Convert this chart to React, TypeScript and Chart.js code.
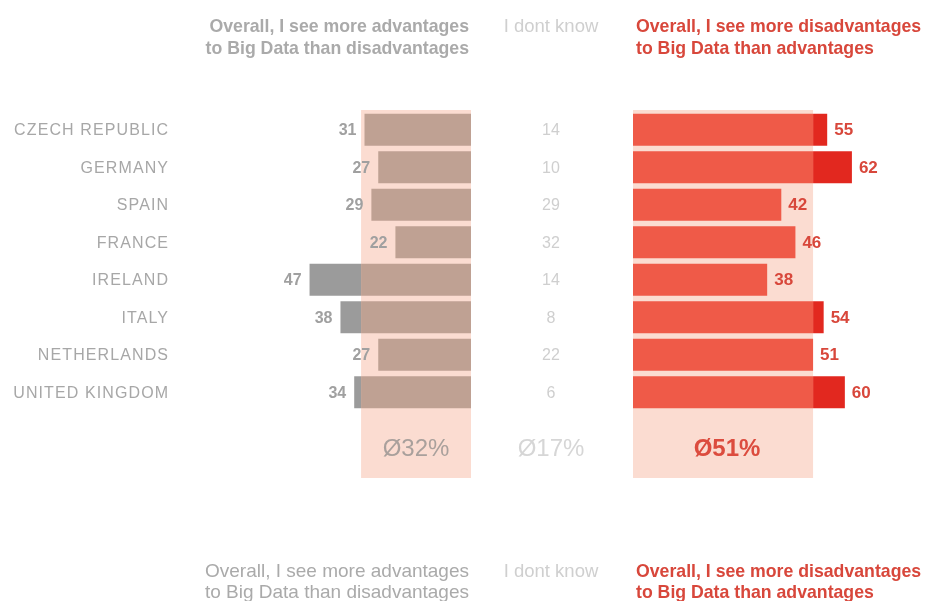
import React, { useEffect, useRef } from "react";
import { Chart, registerables } from "chart.js";

Chart.register(...registerables);

// ---------- data ----------
const COUNTRIES = [
  "CZECH REPUBLIC",
  "GERMANY",
  "SPAIN",
  "FRANCE",
  "IRELAND",
  "ITALY",
  "NETHERLANDS",
  "UNITED KINGDOM",
];
const ADVANTAGES = [31, 27, 29, 22, 47, 38, 27, 34];
const DONT_KNOW = [14, 10, 29, 32, 14, 8, 22, 6];
const DISADVANTAGES = [55, 62, 42, 46, 38, 54, 51, 60];
const AVERAGES = [32, 17, 51]; // advantages, don't know, disadvantages
const HEADER_ADV = ["Overall, I see more advantages", "to Big Data than disadvantages"];
const HEADER_DK = ["I dont know"];
const HEADER_DIS = ["Overall, I see more disadvantages", "to Big Data than advantages"];

// ---------- layout / style ----------
const W = 925;
const H = 601;
const FONT = '"Liberation Sans", Arial, Helvetica, sans-serif';
const ROW_TOP = 111;
const ROW_BOTTOM = 411;
const BAND_BOTTOM = 478;
const AVG_Y = 449;
const LEFT_ZERO = 471;
const LEFT_AREA_START = 179;
const RIGHT_ZERO = 633;
const MID_X = 551;
const LABEL_RIGHT = 168;

const COL = {
  band: "#fbdcd1",
  brown: "#bfa193",
  grey: "#9b9b9b",
  red: "#ef5a48",
  darkRed: "#e2281f",
  redText: "#d8473b",
  headGrey: "#aaaaaa",
  labelGrey: "#a7a7a7",
  valueGrey: "#a0a0a0",
  light: "#cfcfcf",
  avgGrey: "#a9a09c",
  avgLight: "#d6d6d6",
  avgRed: "#dc4c3e",
};

function drawHeaders(ctx: CanvasRenderingContext2D) {
  const blocks = [
    { base: [32, 53.5], bold: true },
    { base: [577, 597.5], bold: false },
  ];
  blocks.forEach((b) => {
    ctx.save();
    ctx.textBaseline = "alphabetic";
    ctx.font = b.bold ? `bold 17.7px ${FONT}` : `19px ${FONT}`;
    ctx.fillStyle = COL.headGrey;
    ctx.textAlign = "right";
    HEADER_ADV.forEach((t, i) => ctx.fillText(t, 469, b.base[i]));
    ctx.font = `18.5px ${FONT}`;
    ctx.fillStyle = COL.light;
    ctx.textAlign = "center";
    HEADER_DK.forEach((t, i) => ctx.fillText(t, MID_X, b.base[i]));
    ctx.font = `bold 17.7px ${FONT}`;
    ctx.fillStyle = COL.redText;
    ctx.textAlign = "left";
    HEADER_DIS.forEach((t, i) => ctx.fillText(t, 636, b.base[i]));
    ctx.restore();
  });
}

const leftPlugin = {
  id: "leftDecor",
  beforeDatasetsDraw(chart: any) {
    const { ctx, scales } = chart;
    const x0 = scales.x.getPixelForValue(0);
    const xa = scales.x.getPixelForValue(AVERAGES[0]);
    ctx.save();
    ctx.fillStyle = COL.band;
    ctx.fillRect(xa, chart.chartArea.top - 1, x0 - xa, BAND_BOTTOM - chart.chartArea.top + 1);
    ctx.restore();
  },
  afterDatasetsDraw(chart: any) {
    const { ctx, scales } = chart;
    const x = scales.x;
    const y = scales.y;
    ctx.save();
    ctx.textBaseline = "middle";
    // values
    ctx.font = `bold 16px ${FONT}`;
    ctx.fillStyle = COL.valueGrey;
    ctx.textAlign = "right";
    ADVANTAGES.forEach((v, i) => {
      ctx.fillText(String(v), x.getPixelForValue(v) - 8, y.getPixelForValue(i) + 1);
    });
    // country labels
    ctx.font = `16px ${FONT}`;
    ctx.fillStyle = COL.labelGrey;
    (ctx as any).letterSpacing = "1.1px";
    COUNTRIES.forEach((c, i) => {
      ctx.fillText(c, LABEL_RIGHT + 1.1, y.getPixelForValue(i) + 1);
    });
    (ctx as any).letterSpacing = "0px";
    // average
    const x0 = x.getPixelForValue(0);
    const xa = x.getPixelForValue(AVERAGES[0]);
    ctx.font = `24px ${FONT}`;
    ctx.fillStyle = COL.avgGrey;
    ctx.textAlign = "center";
    ctx.fillText(`Ø${AVERAGES[0]}%`, (x0 + xa) / 2, AVG_Y);
    ctx.restore();
  },
};

const rightPlugin = {
  id: "rightDecor",
  beforeDatasetsDraw(chart: any) {
    const { ctx, scales } = chart;
    const x0 = scales.x.getPixelForValue(0);
    const xa = scales.x.getPixelForValue(AVERAGES[2]);
    ctx.save();
    ctx.fillStyle = COL.band;
    ctx.fillRect(x0, chart.chartArea.top - 1, xa - x0, BAND_BOTTOM - chart.chartArea.top + 1);
    ctx.restore();
  },
  afterDatasetsDraw(chart: any) {
    const { ctx, scales } = chart;
    const x = scales.x;
    const y = scales.y;
    ctx.save();
    ctx.textBaseline = "middle";
    ctx.font = `bold 17px ${FONT}`;
    ctx.fillStyle = COL.redText;
    ctx.textAlign = "left";
    DISADVANTAGES.forEach((v, i) => {
      ctx.fillText(String(v), x.getPixelForValue(v) + 7, y.getPixelForValue(i) + 1);
    });
    // middle column
    ctx.font = `16px ${FONT}`;
    ctx.fillStyle = COL.light;
    ctx.textAlign = "center";
    DONT_KNOW.forEach((v, i) => {
      ctx.fillText(String(v), MID_X, y.getPixelForValue(i) + 1);
    });
    ctx.font = `24px ${FONT}`;
    ctx.fillStyle = COL.avgLight;
    ctx.fillText(`Ø${AVERAGES[1]}%`, MID_X, AVG_Y);
    // average right
    const x0 = x.getPixelForValue(0);
    const xa = x.getPixelForValue(AVERAGES[2]);
    ctx.font = `bold 24px ${FONT}`;
    ctx.fillStyle = COL.avgRed;
    ctx.fillText(`Ø${AVERAGES[2]}%`, (x0 + xa) / 2 + 4, AVG_Y);
    ctx.restore();
    drawHeaders(ctx);
  },
};

function baseOptions(padLeft: number, padRight: number, max: number, reverse: boolean) {
  return {
    indexAxis: "y" as const,
    animation: false as const,
    responsive: false,
    events: [] as any[],
    layout: { padding: { left: padLeft, right: padRight, top: ROW_TOP, bottom: H - ROW_BOTTOM } },
    plugins: { legend: { display: false }, tooltip: { enabled: false } },
    datasets: { bar: { barPercentage: 0.853, categoryPercentage: 1, borderWidth: 0 } },
    scales: {
      x: { type: "linear" as const, min: 0, max, reverse, stacked: true, display: false },
      y: { type: "category" as const, stacked: true, display: false },
    },
  };
}

export default function App() {
  const leftRef = useRef<HTMLCanvasElement | null>(null);
  const rightRef = useRef<HTMLCanvasElement | null>(null);

  useEffect(() => {
    if (!leftRef.current || !rightRef.current) return;
    const left = new Chart(leftRef.current, {
      type: "bar",
      data: {
        labels: COUNTRIES,
        datasets: [
          {
            label: "advantages (within average)",
            data: ADVANTAGES.map((v) => Math.min(v, AVERAGES[0])),
            backgroundColor: COL.brown,
          },
          {
            label: "advantages (above average)",
            data: ADVANTAGES.map((v) => Math.max(0, v - AVERAGES[0])),
            backgroundColor: COL.grey,
          },
        ],
      },
      options: baseOptions(LEFT_AREA_START, W - LEFT_ZERO, 85, true) as any,
      plugins: [leftPlugin],
    });
    const right = new Chart(rightRef.current, {
      type: "bar",
      data: {
        labels: COUNTRIES,
        datasets: [
          {
            label: "disadvantages (within average)",
            data: DISADVANTAGES.map((v) => Math.min(v, AVERAGES[2])),
            backgroundColor: COL.red,
          },
          {
            label: "disadvantages (above average)",
            data: DISADVANTAGES.map((v) => Math.max(0, v - AVERAGES[2])),
            backgroundColor: COL.darkRed,
          },
        ],
      },
      options: baseOptions(RIGHT_ZERO, 0, 82.7, false) as any,
      plugins: [rightPlugin],
    });
    return () => {
      left.destroy();
      right.destroy();
    };
  }, []);

  const cs: React.CSSProperties = { position: "absolute", left: 0, top: 0, width: W, height: H };
  return (
    <div style={{ position: "fixed", left: 0, top: 0, width: W, height: H, background: "#ffffff" }}>
      <canvas ref={leftRef} width={W} height={H} style={cs} />
      <canvas ref={rightRef} width={W} height={H} style={cs} />
    </div>
  );
}
